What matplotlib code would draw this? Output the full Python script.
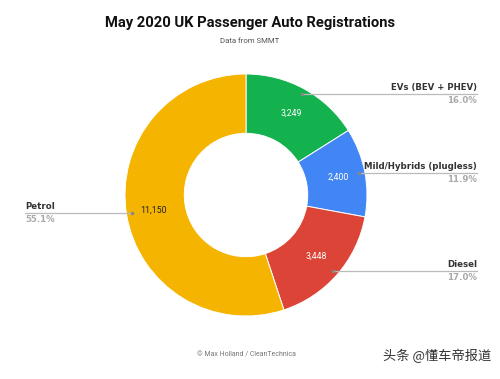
import numpy as np
import matplotlib.pyplot as plt

# data (from SMMT, May 2020)
labels = ["EVs (BEV + PHEV)", "Mild/Hybrids (plugless)", "Diesel", "Petrol"]
values = [3249, 2400, 3448, 11150]
colors = ["#14B14F", "#4285F4", "#DB4437", "#F4B400"]
value_colors = ["white", "white", "white", "#222222"]

total = sum(values)
pcts = [v / total * 100 for v in values]

W, H = 500, 379
fig = plt.figure(figsize=(W / 100, H / 100), dpi=100)

# donut: center (246,195) px, radius 121 px
cx, cy, R = 246, 195, 121
ax = fig.add_axes([(cx - R) / W, (H - cy - R) / H, 2 * R / W, 2 * R / H])
wedges, _ = ax.pie(values, colors=colors, startangle=90, counterclock=False,
                   radius=1, wedgeprops=dict(width=0.49, edgecolor="white", linewidth=0.7))
ax.set_xlim(-1, 1)
ax.set_ylim(-1, 1)
ax.axis("off")

# value labels in the middle of the ring
for w, v, c in zip(wedges, values, value_colors):
    ang = np.deg2rad((w.theta1 + w.theta2) / 2)
    ax.text(0.775 * np.cos(ang), 0.775 * np.sin(ang), f"{v:,}", ha="center", va="center",
            fontsize=6.3, color=c, family="Roboto")

# overlay in pixel coords for leader lines and text
ov = fig.add_axes([0, 0, 1, 1], zorder=5)
ov.set_xlim(0, W)
ov.set_ylim(H, 0)
ov.axis("off")

# leader lines: (start x, y, end x, label side)
leaders = [(302, 94, 477, "right"), (359, 173, 477, "right"),
           (333, 271, 477, "right"), (132, 213, 25, "left")]
for (x0, y0, x1, side), lab, p in zip(leaders, labels, pcts):
    ov.plot([x0, x1], [y0, y0], color="#BBBBBB", lw=0.9)
    ov.plot([x0], [y0], marker="o", ms=1.5, color="#888888")
    ha = "right" if side == "right" else "left"
    ov.text(x1, y0 - 2, lab, ha=ha, va="bottom", fontsize=6.2, fontweight="bold",
            color="#333333", family="DejaVu Sans")
    ov.text(x1, y0 + 2, f"{p:.1f}%", ha=ha, va="top", fontsize=6.2, fontweight="bold",
            color="#AAAAAA", family="DejaVu Sans")

fig.text(0.5, 1 - 23 / H, "May 2020 UK Passenger Auto Registrations", ha="center", va="center",
         fontsize=10.6, fontweight="bold", family="Roboto", color="#111111")
fig.text(0.5, 1 - 41 / H, "Data from SMMT", ha="center", va="center",
         fontsize=5.6, family="Roboto", color="#555555")
fig.text(246 / W, 1 - 355 / H, "© Max Holland / CleanTechnica", ha="center", va="center",
         fontsize=5, family="Roboto", color="#777777")
fig.text(437 / W, 1 - 356 / H, "头条 @懂车帝报道", ha="center", va="center",
         fontsize=9.5, family=["Noto Sans CJK SC", "DejaVu Sans"], color="#333333")

fig.savefig("out.png", dpi=100, facecolor="white")
